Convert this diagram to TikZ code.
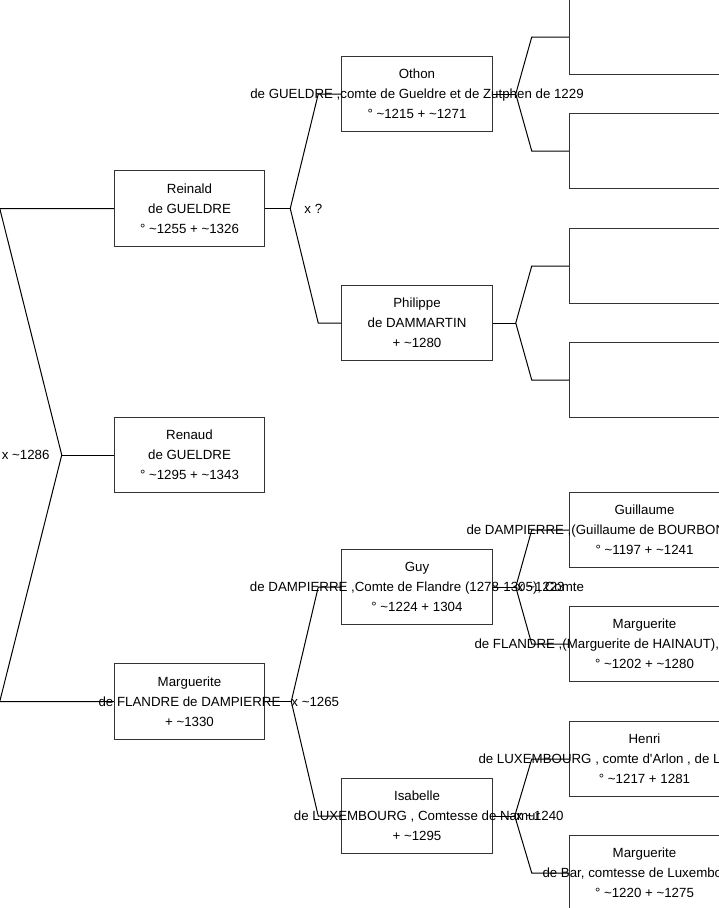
\documentclass[tikz,border=0pt]{standalone}
\usepackage{fontspec}
\setmainfont{Liberation Sans}
\usetikzlibrary{positioning}
\tikzstyle{person} = [rectangle, draw=black!80, line width=1pt, minimum width=150.5pt, minimum height=75.5pt,
                      inner sep=0pt, align=center, font=\fontsize{13.3}{20}\selectfont]
\tikzstyle{marr}   = [inner sep=0pt, font=\fontsize{13.3}{15}\selectfont]
\tikzstyle{link}   = [line width=1pt]
\newcommand{\olap}[1]{\makebox[0pt]{#1}}
\newcommand{\cutline}[2]{\makebox[0pt][l]{\hspace*{#1}#2}}
\newcommand{\abt}{\textasciitilde}
\begin{document}
\begin{tikzpicture}[x=1pt, y=1pt]
    \useasboundingbox (0,0) rectangle (719,-908);

    \node (reinald) [person] at (189.5,-208.5) {\olap{Reinald}\\\olap{de GUELDRE}\\\olap{° \abt1255 + \abt1326}};
    \node (renaud) [person, below=170pt of reinald] {\olap{Renaud}\\\olap{de GUELDRE}\\\olap{° \abt1295 + \abt1343}};
    \node (marg) [person, below=170pt of renaud] {\olap{Marguerite}\\\olap{de FLANDRE de DAMPIERRE}\\\olap{+ \abt1330}};

    \node (othon) [person, above right=38pt and 76pt of reinald] {\olap{Othon}\\\olap{de GUELDRE ,comte de Gueldre et de Zutphen de 1229}\\\olap{° \abt1215 + \abt1271}};
    \node (philippe) [person, below right=38pt and 76pt of reinald] {\olap{Philippe}\\\olap{de DAMMARTIN}\\\olap{+ \abt1280}};
    \node (guy) [person, above right=38pt and 76pt of marg] {\olap{Guy}\\\olap{de DAMPIERRE ,Comte de Flandre (1278-1305), Comte}\\\olap{° \abt1224 + 1304}};
    \node (isabelle) [person, below right=38pt and 76pt of marg] {\olap{Isabelle}\\\olap{de LUXEMBOURG , Comtesse de Namur}\\\olap{+ \abt1295}};

    \node (othonf) [person, right=76pt of othon, yshift=57pt] {};
    \node (othonm) [person, right=76pt of othon, yshift=-57pt] {};
    \node (philf) [person, right=76pt of philippe, yshift=57pt] {};
    \node (philm) [person, right=76pt of philippe, yshift=-57pt] {};
    \node (guillaume) [person, right=76pt of guy, yshift=57pt] {\olap{Guillaume}\\\cutline{-178pt}{de DAMPIERRE ,(Guillaume de BOURBON}\\\olap{° \abt1197 + \abt1241}};
    \node (margh) [person, right=76pt of guy, yshift=-57pt] {\olap{Marguerite}\\\cutline{-170pt}{de FLANDRE ,(Marguerite de HAINAUT),C}\\\olap{° \abt1202 + \abt1280}};
    \node (henri) [person, right=76pt of isabelle, yshift=57pt] {\olap{Henri}\\\cutline{-166pt}{de LUXEMBOURG , comte d\textquotesingle Arlon , de L}\\\olap{° \abt1217 + 1281}};
    \node (margb) [person, right=76pt of isabelle, yshift=-57pt] {\olap{Marguerite}\\\cutline{-102pt}{de Bar, comtesse de Luxembo}\\\olap{° \abt1220 + \abt1275}};

    \coordinate (xRM) at ([xshift=-52pt]renaud.west);
    \coordinate (xR) at ([xshift=25pt]reinald.east);
    \coordinate (xM) at ([xshift=26pt]marg.east);
    \coordinate (xO) at ([xshift=23pt]othon.east);
    \coordinate (xP) at ([xshift=23pt]philippe.east);
    \coordinate (xG) at ([xshift=23pt]guy.east);
    \coordinate (xI) at ([xshift=22pt]isabelle.east);

    \draw[link] (reinald) -- ([xshift=-114pt]reinald.west) -- (xRM) -- ([xshift=-114pt]marg.west) -- (marg);
    \draw[link] (xRM) -- (renaud);
    \draw[link] (reinald) -- (xR);
    \draw[link] (othon) -- ([xshift=-23pt]othon.west) -- (xR) -- ([xshift=-23pt]philippe.west) -- (philippe);
    \draw[link] (marg) -- (xM);
    \draw[link] (guy) -- ([xshift=-23pt]guy.west) -- (xM) -- ([xshift=-23pt]isabelle.west) -- (isabelle);
    \draw[link] (othon) -- (xO);
    \draw[link] (othonf) -- ([xshift=-37pt]othonf.west) -- (xO) -- ([xshift=-37pt]othonm.west) -- (othonm);
    \draw[link] (philippe) -- (xP);
    \draw[link] (philf) -- ([xshift=-37pt]philf.west) -- (xP) -- ([xshift=-37pt]philm.west) -- (philm);
    \draw[link] (guy) -- (xG);
    \draw[link] (guillaume) -- ([xshift=-37pt]guillaume.west) -- (xG) -- ([xshift=-37pt]margh.west) -- (margh);
    \draw[link] (isabelle) -- (xI);
    \draw[link] (henri) -- ([xshift=-37pt]henri.west) -- (xI) -- ([xshift=-37pt]margb.west) -- (margb);

    \node (m1286) [marr, left=12pt of xRM] {x \abt1286};
    \node (mR) [marr, right=14pt of xR] {x ?};
    \node (m1265) [marr, right=0pt of xM] {x \abt1265};
    \node (m1223) [marr, right=1pt of xG] {x \abt1223};
    \node (m1240) [marr, right=1pt of xI] {x \abt1240};
\end{tikzpicture}
\end{document}
